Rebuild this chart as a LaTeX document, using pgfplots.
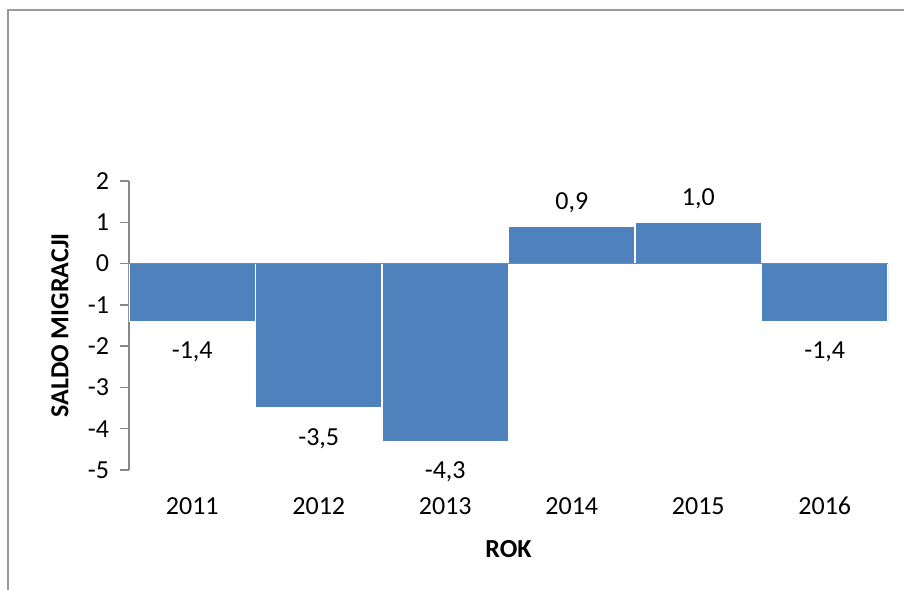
\documentclass[border=0pt]{standalone}
\usepackage{fontspec}
\setmainfont{Carlito}
\usepackage{pgfplots}
\pgfplotsset{compat=1.18}
\definecolor{barblue}{HTML}{4F81BD}
\definecolor{axgray}{HTML}{878787}
\definecolor{framegray}{HTML}{9A9A9A}
\begin{document}
\begin{tikzpicture}
\path[use as bounding box] (-64.5pt,-59.5pt) rectangle (387.5pt,235pt);
\draw[framegray, line width=1pt] (-60.5pt,-61pt) -- (-60.5pt,230pt) -- (390pt,230pt);
\begin{axis}[
  at={(0,0)}, anchor=south west,
  scale only axis, width=379.5pt, height=144.5pt,
  xmin=0.5, xmax=6.5, ymin=-5, ymax=2,
  ytick={-5,-4,-3,-2,-1,0,1,2},
  xtick={1,2,3,4,5,6},
  xticklabels={2011,2012,2013,2014,2015,2016},
  axis y line*=left, axis x line*=bottom,
  x axis line style={draw=none}, xtick style={draw=none},
  y axis line style={axgray, line width=0.75pt, -},
  ytick style={axgray, line width=0.75pt},
  tick align=outside, major tick length=4.5pt,
  tick label style={font=\fontsize{13}{15}\selectfont},
  label style={font=\fontsize{13}{15}\selectfont\bfseries},
  xticklabel style={anchor=base, yshift=-17.5pt},
  yticklabel style={xshift=-2pt},
  xlabel={ROK},
  xlabel style={at={(axis description cs:0.5,0)}, anchor=base, yshift=-43.5pt},
  ylabel={SALDO MIGRACJI},
  ylabel style={at={(axis description cs:-0.0909,0.5)}, anchor=center},
  /pgf/number format/assume math mode=true,
  /pgf/number format/use comma,
  ybar, bar width=1, bar shift=0pt,
  nodes near coords style={font=\fontsize{13}{15}\selectfont,
    /pgf/number format/fixed, /pgf/number format/fixed zerofill,
    /pgf/number format/precision=1},
]
\addplot[fill=barblue, draw=white, line width=0.6pt,
  nodes near coords,
  every node near coord/.append style={anchor=north, yshift=-6.5pt}]
  coordinates {(1,-1.4) (2,-3.5) (3,-4.3) (6,-1.4)};
\addplot[fill=barblue, draw=white, line width=0.6pt,
  nodes near coords,
  every node near coord/.append style={anchor=south, yshift=3pt}]
  coordinates {(4,0.9) (5,1.0)};
\draw[axgray, line width=0.75pt] (axis cs:0.5,0) -- (axis cs:6.5,0);
\end{axis}
\end{tikzpicture}
\end{document}
